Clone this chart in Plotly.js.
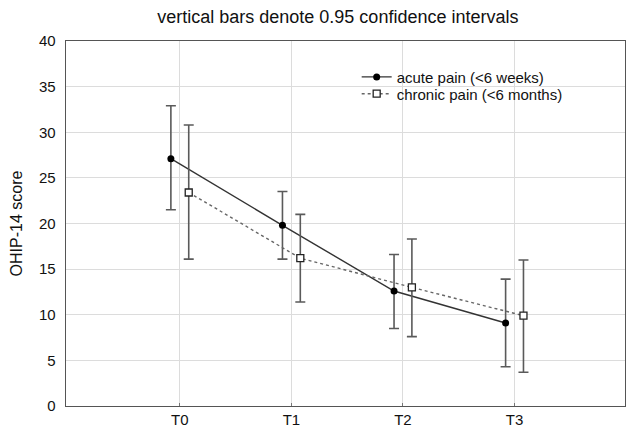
<!DOCTYPE html>
<html>
<head>
<meta charset="utf-8">
<script src="https://cdn.plot.ly/plotly-3.0.1.min.js"></script>
<style>html,body{margin:0;padding:0;background:#fff;}#chart{width:628px;height:430px;}</style>
</head>
<body>
<div id="chart"></div>
<script>
var categories = ["T0", "T1", "T2", "T3"];
var acuteName = "acute pain (<6 weeks)";
var acuteMean = [27.1, 19.8, 12.6, 9.1];
var acuteUpper = [32.9, 23.5, 16.6, 13.9];
var acuteLower = [21.5, 16.1, 8.5, 4.3];
var chronicName = "chronic pain (<6 months)";
var chronicMean = [23.4, 16.2, 13.0, 9.9];
var chronicUpper = [30.8, 21.0, 18.3, 16.0];
var chronicLower = [16.1, 11.4, 7.6, 3.7];

var offset = 0.08;
function pos(sign){ return categories.map(function(c,i){ return i + sign*offset; }); }
function plus(u,m){ return u.map(function(v,i){ return v - m[i]; }); }
function minus(l,m){ return l.map(function(v,i){ return m[i] - v; }); }

var traces = [
  {
    x: pos(-1), y: acuteMean, name: acuteName, type: "scatter", mode: "lines+markers",
    legend: "legend",
    line: {color: "#333333", width: 1.4},
    marker: {symbol: "circle", size: 7, color: "#000000"},
    error_y: {type: "data", symmetric: false, array: plus(acuteUpper, acuteMean), arrayminus: minus(acuteLower, acuteMean), color: "#5a5a5a", thickness: 1.6, width: 5}
  },
  {
    x: pos(1), y: chronicMean, name: chronicName, type: "scatter", mode: "lines+markers",
    legend: "legend2",
    line: {color: "#666666", width: 1.4, dash: "dot"},
    marker: {symbol: "square", size: 7, color: "#ffffff", line: {color: "#222222", width: 1.3}},
    error_y: {type: "data", symmetric: false, array: plus(chronicUpper, chronicMean), arrayminus: minus(chronicLower, chronicMean), color: "#5a5a5a", thickness: 1.6, width: 5}
  }
];

var legendBase = {xanchor: "left", yanchor: "middle", bgcolor: "rgba(0,0,0,0)", font: {size: 15}, itemwidth: 30};

var layout = {
  width: 628, height: 430,
  margin: {l: 66, r: 3, t: 41, b: 24},
  paper_bgcolor: "#ffffff", plot_bgcolor: "#ffffff",
  font: {family: "Liberation Sans, Arial, sans-serif", size: 15, color: "#111111"},
  title: {text: "vertical bars denote 0.95 confidence intervals", font: {size: 18, color: "#111"}, x: 0.538, xanchor: "center", y: 0.962, yanchor: "middle"},
  xaxis: {
    range: [-1.02, 3.99], tickvals: categories.map(function(c,i){return i;}), ticktext: categories,
    showgrid: true, gridcolor: "#dcdcdc", gridwidth: 1, zeroline: false,
    showline: true, linecolor: "#555555", linewidth: 1.3, mirror: true,
    ticks: "inside", ticklen: 3, tickcolor: "#777", tickfont: {size: 15}
  },
  yaxis: {
    range: [0, 40], dtick: 5, showgrid: true, gridcolor: "#dcdcdc", gridwidth: 1, zeroline: false,
    showline: true, linecolor: "#555555", linewidth: 1.3, mirror: true,
    ticks: "", tickfont: {size: 15}, ticklabelstandoff: 6,
    title: {text: "OHIP-14 score", font: {size: 16}, standoff: 12}
  },
  showlegend: true,
  legend: Object.assign({}, legendBase, {x: 0.52, y: 0.901}),
  legend2: Object.assign({}, legendBase, {x: 0.52, y: 0.855})
};

Plotly.newPlot("chart", traces, layout, {displayModeBar: false, staticPlot: true});
</script>
</body>
</html>
